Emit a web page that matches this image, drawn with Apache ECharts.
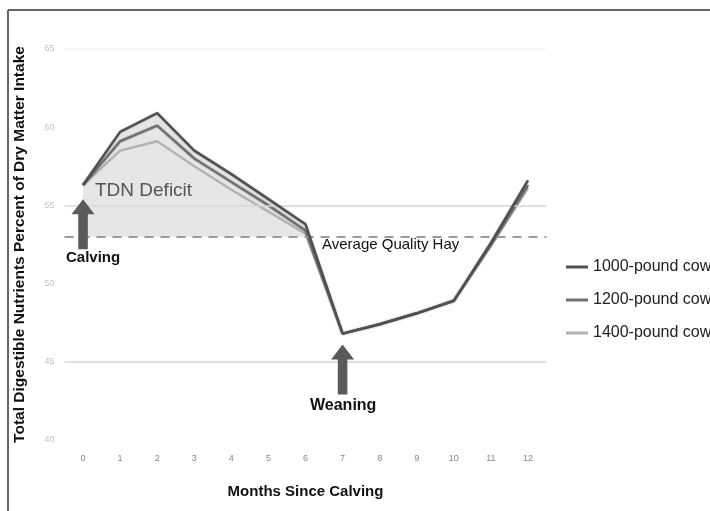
<!DOCTYPE html>
<html>
<head>
<meta charset="utf-8">
<script src="https://cdn.jsdelivr.net/npm/echarts@6/dist/echarts.min.js"></script>
<style>
  html, body { margin: 0; padding: 0; background: #fff; }
  #chart { width: 710px; height: 511px; }
</style>
</head>
<body>
<div id="chart"></div>
<script>
// months since calving
var months = ['0', '1', '2', '3', '4', '5', '6', '7', '8', '9', '10', '11', '12'];
// TDN requirement (% of dry matter intake)
var cow1000 = [56.3, 59.7, 60.9, 58.5, 57.0, 55.4, 53.8, 46.8, 47.4, 48.1, 48.9, 52.6, 56.6];
var cow1200 = [56.3, 59.1, 60.1, 58.0, 56.5, 55.0, 53.4, 46.8, 47.4, 48.1, 48.9, 52.5, 56.3];
var cow1400 = [56.3, 58.5, 59.1, 57.5, 56.0, 54.6, 53.2, 46.8, 47.4, 48.1, 48.9, 52.4, 56.1];
var hayTdn = 53;          // average quality hay
var gridValues = [65, 55, 45];
// deficit area follows the top line until weaning
var deficit = cow1000.slice(0, 7).concat([null, null, null, null, null, null]);

var arrowPath = 'path://M12,0 L24,15 L17,15 L17,50 L7,50 L7,15 L0,15 Z';

var chart = echarts.init(document.getElementById('chart'));

var option = {
  backgroundColor: '#fff',
  animation: false,
  textStyle: { fontFamily: 'Liberation Sans' },
  grid: { left: 64.5, right: 163.5, top: 49, bottom: 71, outerBoundsMode: 'none' },
  legend: {
    orient: 'vertical',
    left: 561,
    top: 254,
    itemWidth: 22,
    itemHeight: 3,
    itemGap: 17,
    icon: 'rect',
    textStyle: { fontSize: 16, color: '#222' },
    data: ['1000-pound cow', '1200-pound cow', '1400-pound cow']
  },
  xAxis: {
    type: 'category',
    data: months,
    boundaryGap: true,
    name: 'Months Since Calving',
    nameLocation: 'middle',
    nameGap: 44,
    nameTextStyle: { fontSize: 15, fontWeight: 'bold', color: '#111' },
    axisLine: { show: false },
    axisTick: { show: false },
    axisLabel: { fontSize: 9, color: '#888', margin: 14 }
  },
  yAxis: {
    type: 'value',
    min: 40,
    max: 65,
    interval: 5,
    name: 'Total Digestible Nutrients Percent of Dry Matter Intake',
    nameLocation: 'middle',
    nameRotate: 90,
    nameGap: 37,
    nameTextStyle: { fontSize: 15.5, fontWeight: 'bold', color: '#111' },
    splitLine: { show: false },
    axisLine: { show: false },
    axisTick: { show: false },
    axisLabel: { fontSize: 9, color: '#c4c4c4', margin: 10 }
  },
  series: [
    {
      name: 'deficit',
      type: 'line',
      data: deficit,
      symbol: 'none',
      lineStyle: { opacity: 0 },
      areaStyle: { origin: hayTdn, color: '#e6e6e6', opacity: 1 },
      z: 1,
      silent: true,
      markLine: {
        silent: true,
        symbol: ['none', 'none'],
        label: { show: false },
        data: gridValues.map(function (v) {
          return {
            yAxis: v,
            lineStyle: { type: 'solid', width: 1.5, color: v === 65 ? '#f3f3f3' : '#d6d6d6' }
          };
        }).concat([{
          yAxis: hayTdn,
          lineStyle: { type: [9, 7], width: 2, color: '#9a9a9a' }
        }])
      }
    },
    {
      name: '1400-pound cow',
      type: 'line',
      data: cow1400,
      symbol: 'none',
      color: '#b3b3b3',
      lineStyle: { width: 2.5, color: '#b3b3b3' },
      z: 3
    },
    {
      name: '1200-pound cow',
      type: 'line',
      data: cow1200,
      symbol: 'none',
      color: '#707070',
      lineStyle: { width: 2.5, color: '#707070', shadowBlur: 2, shadowColor: 'rgba(0,0,0,0.25)' },
      z: 4
    },
    {
      name: '1000-pound cow',
      type: 'line',
      data: cow1000,
      symbol: 'none',
      color: '#505050',
      lineStyle: { width: 2.5, color: '#505050', shadowBlur: 2, shadowColor: 'rgba(0,0,0,0.25)' },
      z: 5,
      markPoint: {
        silent: true,
        symbol: arrowPath,
        symbolSize: [23, 50],
        itemStyle: { color: '#5a5a5a' },
        label: { show: false },
        data: [
          { coord: [0, 53.8] },
          { coord: [7, 44.5] }
        ]
      }
    }
  ],
  graphic: [
    { type: 'line', shape: { x1: 8, y1: 10, x2: 710, y2: 10 }, style: { stroke: '#666', lineWidth: 2 } },
    { type: 'line', shape: { x1: 8, y1: 10, x2: 8, y2: 511 }, style: { stroke: '#666', lineWidth: 2 } },
    { type: 'text', left: 95, top: 181, z: 100, style: { text: 'TDN Deficit', font: '19px "Liberation Sans"', fill: '#555' } },
    { type: 'text', left: 66, top: 250, z: 100, style: { text: 'Calving', font: 'bold 15px "Liberation Sans"', fill: '#111' } },
    { type: 'text', left: 322, top: 237, z: 100, style: { text: 'Average Quality Hay', font: '15px "Liberation Sans"', fill: '#111' } },
    { type: 'text', left: 310, top: 398, z: 100, style: { text: 'Weaning', font: 'bold 16px "Liberation Sans"', fill: '#111' } }
  ]
};

chart.setOption(option);
</script>
</body>
</html>
